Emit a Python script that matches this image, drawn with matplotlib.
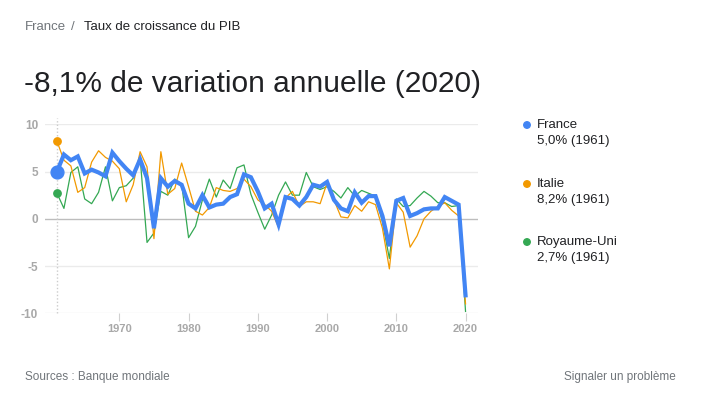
import matplotlib
matplotlib.use("Agg")
import matplotlib.pyplot as plt
from matplotlib.patches import Ellipse
import numpy as np

plt.rcParams['font.family'] = ['Liberation Sans', 'DejaVu Sans']

years = list(range(1961, 2021))
france = [5.0, 6.8, 6.2, 6.6, 4.8, 5.2, 4.9, 4.5, 7.0, 6.1,
          5.3, 4.6, 6.3, 4.3, -1.0, 4.3, 3.4, 4.0, 3.6, 1.6,
          1.1, 2.5, 1.2, 1.5, 1.6, 2.3, 2.6, 4.7, 4.4, 2.9,
          1.1, 1.6, -0.6, 2.3, 2.1, 1.4, 2.3, 3.6, 3.4, 3.9,
          2.0, 1.1, 0.8, 2.8, 1.7, 2.4, 2.4, 0.3, -2.9, 1.9,
          2.2, 0.3, 0.6, 1.0, 1.1, 1.1, 2.3, 1.9, 1.5, -8.1]
italie = [8.2, 6.2, 5.6, 2.8, 3.3, 6.0, 7.2, 6.5, 6.1, 5.3,
          1.8, 3.6, 7.1, 5.5, -2.1, 7.1, 2.6, 3.2, 5.9, 3.4,
          0.8, 0.4, 1.2, 3.3, 3.0, 2.9, 3.2, 4.2, 3.4, 2.0,
          1.5, 0.8, -0.9, 2.2, 2.9, 1.3, 1.8, 1.8, 1.6, 3.8,
          2.0, 0.2, 0.1, 1.4, 0.8, 1.8, 1.5, -1.0, -5.3, 1.7,
          0.7, -3.0, -1.8, 0.0, 0.8, 1.3, 1.7, 0.9, 0.3, -9.0]
royaume_uni = [2.7, 1.1, 4.9, 5.5, 2.1, 1.6, 2.8, 5.5, 1.9, 3.3,
               3.5, 4.3, 6.5, -2.5, -1.5, 2.9, 2.5, 4.2, 3.7, -2.0,
               -0.8, 2.0, 4.2, 2.3, 4.1, 3.2, 5.4, 5.7, 2.6, 0.7,
               -1.1, 0.4, 2.5, 3.9, 2.5, 2.5, 4.9, 3.4, 3.1, 3.4,
               2.9, 2.2, 3.3, 2.4, 3.0, 2.7, 2.4, -0.3, -4.2, 2.1,
               1.3, 1.4, 2.2, 2.9, 2.4, 1.7, 1.7, 1.3, 1.4, -9.8]
xticks = [1970, 1980, 1990, 2000, 2010, 2020]
yticks = [-10, -5, 0, 5, 10]
series_names = ["France", "Italie", "Royaume-Uni"]
legend_values = ["5,0% (1961)", "8,2% (1961)", "2,7% (1961)"]

c_fr = '#4285f4'
c_it = '#f29900'
c_uk = '#34a853'

fig = plt.figure(figsize=(7.12, 3.97), dpi=100)
W, H = 712, 397

def fx(px):
    return px / W

def fy(py):
    return 1 - py / H

ax = fig.add_axes([fx(45), fy(313.3), fx(478 - 45), (313.3 - 124.3) / H])
ax.set_xlim(1961 - 12 / 6.92, 2021.8)
ax.set_ylim(-10, 10)
for s in ax.spines.values():
    s.set_visible(False)

for y in yticks:
    ax.axhline(y, color='#bdbdbd' if y == 0 else '#ebebeb', lw=1.0, zorder=0)

ax.plot(years, royaume_uni, color=c_uk, lw=0.9, zorder=2)
ax.plot(years, italie, color=c_it, lw=0.9, zorder=3)
ax.plot(years, france, color=c_fr, lw=3.0, zorder=4, solid_joinstyle='miter')

ax.plot([1961, 1961], [-10, 10.7], color='#cccccc', lw=1.0, ls=(0, (1, 1.5)),
        zorder=1, clip_on=False)
ax.scatter([1961], [royaume_uni[0]], s=28, color=c_uk, zorder=5, clip_on=False)
ax.scatter([1961], [italie[0]], s=28, color=c_it, zorder=5, clip_on=False)
ax.scatter([1961], [france[0]], s=85, color=c_fr, zorder=6, clip_on=False)

ax.set_xticks(xticks)
ax.set_xticklabels([str(x) for x in xticks])
ax.set_yticks(yticks)
ax.set_yticklabels([str(y) for y in yticks])
ax.tick_params(axis='x', length=6, color='#d0d0d0', labelsize=8, pad=2)
ax.tick_params(axis='y', length=0, labelsize=8.5, pad=5)
for lab in ax.get_yticklabels() + ax.get_xticklabels():
    lab.set_color('#a8a8a8')
    lab.set_fontweight('bold')
for t in ax.xaxis.get_ticklines():
    t.set_color('#d0d0d0')

# header
fig.text(fx(25), fy(27), "France", fontsize=9.5, color='#70757a', va='center', ha='left')
fig.text(fx(71), fy(27), "/", fontsize=9.5, color='#70757a', va='center', ha='left')
fig.text(fx(84), fy(27), "Taux de croissance du PIB", fontsize=9.5, color='#202124', va='center', ha='left')
fig.text(fx(24), fy(84), "-8,1% de variation annuelle (2020)", fontsize=21.5, color='#202124',
         va='center', ha='left')

# legend
leg_y = [125, 184, 242]
colors = [c_fr, c_it, c_uk]
for name, val, yy, c in zip(series_names, legend_values, leg_y, colors):
    fig.patches.append(Ellipse((fx(527), fy(yy)), 6.5 / W, 6.5 / H, color=c,
                               transform=fig.transFigure, figure=fig))
    fig.text(fx(537), fy(yy), name, fontsize=9.5, color='#202124', va='center', ha='left')
    fig.text(fx(537), fy(yy + 16), val, fontsize=9.5, color='#202124', va='center', ha='left')

# footer
fig.text(fx(25), fy(377), "Sources : Banque mondiale", fontsize=8.5, color='#70757a', va='center', ha='left')
fig.text(fx(676), fy(377), "Signaler un problème", fontsize=8.5, color='#70757a', va='center', ha='right')

fig.savefig("out.png", dpi=100, facecolor='white')
